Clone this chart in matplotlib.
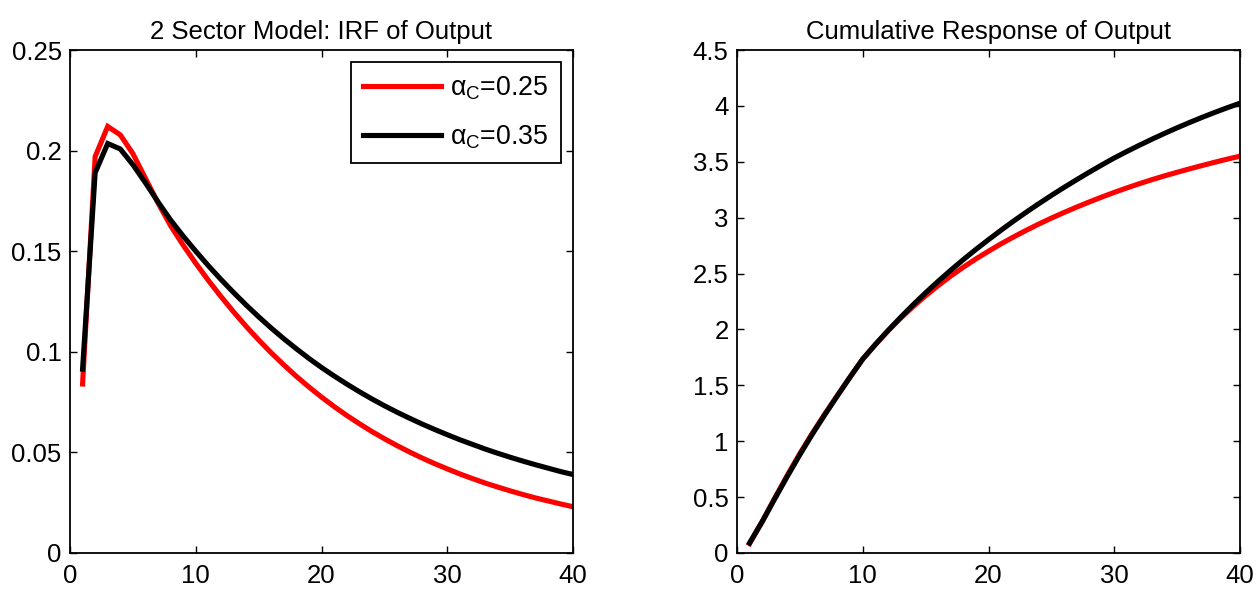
import matplotlib
matplotlib.use("Agg")
import matplotlib.pyplot as plt

plt.rcParams['font.family'] = ['Liberation Sans', 'DejaVu Sans']
plt.rcParams['mathtext.fontset'] = 'custom'
plt.rcParams['mathtext.rm'] = 'Liberation Sans'
plt.rcParams['mathtext.it'] = 'Liberation Sans'
plt.rcParams['mathtext.default'] = 'regular'

periods = list(range(1, 41))

labels = [r'$\alpha_C$=0.25', r'$\alpha_C$=0.35']
titles = ['2 Sector Model: IRF of Output', 'Cumulative Response of Output']

irf_025 = [0.0840, 0.1970, 0.2120, 0.2078, 0.1985, 0.1862, 0.1740, 0.1627, 0.1530, 0.1440,
           0.1355, 0.1275, 0.1199, 0.1127, 0.1059, 0.0995, 0.0935, 0.0878, 0.0825, 0.0775,
           0.0728, 0.0684, 0.0643, 0.0604, 0.0568, 0.0534, 0.0502, 0.0472, 0.0444, 0.0418,
           0.0393, 0.0370, 0.0348, 0.0328, 0.0309, 0.0291, 0.0274, 0.0259, 0.0244, 0.0230]

irf_035 = [0.0914, 0.1890, 0.2035, 0.2008, 0.1930, 0.1840, 0.1745, 0.1655, 0.1575, 0.1500,
           0.1428, 0.1360, 0.1295, 0.1233, 0.1174, 0.1118, 0.1065, 0.1015, 0.0967, 0.0922,
           0.0880, 0.0840, 0.0802, 0.0766, 0.0732, 0.0700, 0.0670, 0.0641, 0.0614, 0.0588,
           0.0563, 0.0540, 0.0517, 0.0496, 0.0476, 0.0457, 0.0439, 0.0422, 0.0405, 0.0390]

cum_025 = [0.084, 0.280, 0.490, 0.695, 0.890, 1.073, 1.246, 1.412, 1.576, 1.735,
           1.865, 1.986, 2.099, 2.204, 2.302, 2.393, 2.478, 2.557, 2.631, 2.700,
           2.766, 2.828, 2.887, 2.943, 2.996, 3.046, 3.094, 3.140, 3.184, 3.226,
           3.266, 3.304, 3.340, 3.374, 3.406, 3.437, 3.467, 3.496, 3.524, 3.550]

cum_035 = [0.090, 0.280, 0.485, 0.685, 0.880, 1.065, 1.240, 1.410, 1.575, 1.735,
           1.865, 1.989, 2.107, 2.220, 2.328, 2.431, 2.530, 2.625, 2.716, 2.803,
           2.888, 2.970, 3.049, 3.125, 3.199, 3.270, 3.339, 3.406, 3.471, 3.534,
           3.592, 3.648, 3.702, 3.754, 3.804, 3.852, 3.898, 3.942, 3.984, 4.024]

left_yticks = [0, 0.05, 0.1, 0.15, 0.2, 0.25]
left_ylabels = ['0', '0.05', '0.1', '0.15', '0.2', '0.25']
right_yticks = [0, 0.5, 1, 1.5, 2, 2.5, 3, 3.5, 4, 4.5]
right_ylabels = ['0', '0.5', '1', '1.5', '2', '2.5', '3', '3.5', '4', '4.5']
xticks = [0, 10, 20, 30, 40]

W, H = 1256, 593
fig = plt.figure(figsize=(W / 100, H / 100), dpi=100)
ax1 = fig.add_axes([70 / W, 1 - 553 / H, 503 / W, 503 / H])
ax2 = fig.add_axes([737 / W, 1 - 553 / H, 503 / W, 503 / H])

lw = 3.7
ax1.plot(periods, irf_025, color='#ff0000', lw=lw, label=labels[0], solid_joinstyle='miter')
ax1.plot(periods, irf_035, color='#000000', lw=lw, label=labels[1], solid_joinstyle='miter')
ax2.plot(periods, cum_025, color='#ff0000', lw=lw)
ax2.plot(periods, cum_035, color='#000000', lw=lw)

fs = 18.5
for ax, yt, yl, ylim, title in [(ax1, left_yticks, left_ylabels, (0, 0.25), titles[0]),
                                (ax2, right_yticks, right_ylabels, (0, 4.5), titles[1])]:
    ax.set_xlim(0, 40)
    ax.set_ylim(*ylim)
    ax.set_xticks(xticks)
    ax.set_xticklabels([str(v) for v in xticks])
    ax.set_yticks(yt)
    ax.set_yticklabels(yl)
    ax.tick_params(direction='in', length=5, width=1, top=True, right=True,
                   labelsize=fs, colors='black')
    ax.tick_params(axis='x', pad=8)
    ax.tick_params(axis='y', pad=6)
    for s in ax.spines.values():
        s.set_linewidth(1.3)
    ax.set_title(title, fontsize=fs, pad=8)

leg = ax1.legend(loc='upper right', fontsize=19.3, handlelength=2.9, fancybox=False,
                 framealpha=1, edgecolor='black', borderaxespad=0.45, labelspacing=0.8,
                 handletextpad=0.34, borderpad=0.45)
leg.get_frame().set_linewidth(1.3)

fig.savefig('out.png', dpi=100)
